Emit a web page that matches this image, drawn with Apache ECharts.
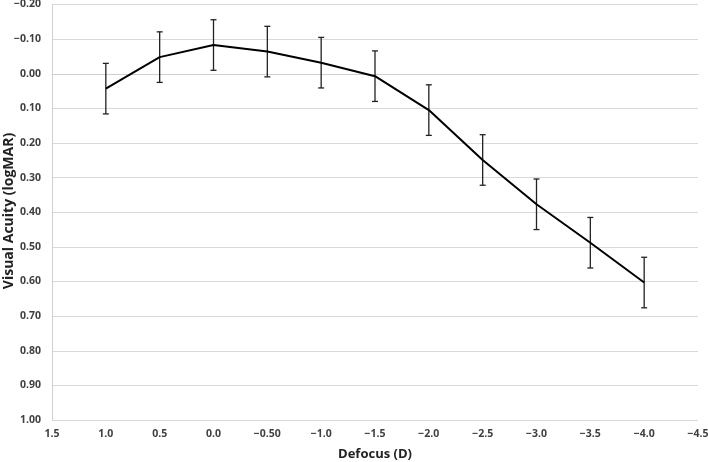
<!DOCTYPE html>
<html><head><meta charset="utf-8">
<script src="https://cdn.jsdelivr.net/npm/echarts@6/dist/echarts.min.js"></script>
<style>html,body{margin:0;padding:0;background:#fff}#c{width:708px;height:462px}</style>
</head><body><div id="c"></div>
<script>
const xTickLabels = ["1.5","1.0","0.5","0.0","\u22120.50","\u22121.0","\u22121.5","\u22122.0","\u22122.5","\u22123.0","\u22123.5","\u22124.0","\u22124.5"];
const defocus = ["1.0","0.5","0.0","\u22120.50","\u22121.0","\u22121.5","\u22122.0","\u22122.5","\u22123.0","\u22123.5","\u22124.0"];
const meanVA = [0.043, -0.048, -0.083, -0.064, -0.032, 0.007, 0.105, 0.249, 0.377, 0.488, 0.603];
const sdVA = [0.073, 0.073, 0.073, 0.073, 0.073, 0.073, 0.073, 0.073, 0.073, 0.073, 0.073];

const lineData = defocus.map((d, i) => [d, meanVA[i]]);
const errData = defocus.map((d, i) => [d, meanVA[i] - sdVA[i], meanVA[i] + sdVA[i]]);
const fontFam = '"Open Sans", "Liberation Sans", sans-serif';
const chart = echarts.init(document.getElementById('c'));
chart.setOption({
  animation: false,
  grid: {left: 52, right: 10, top: 4.5, bottom: 42, containLabel: false, outerBoundsMode: 'none'},
  graphic: [{
    type: 'text', rotation: Math.PI / 2,
    position: [9, 211],
    style: {text: 'Visual Acuity (logMAR)', font: 'bold 14px ' + fontFam, fill: '#222',
      textAlign: 'center', textVerticalAlign: 'middle'}
  }],
  xAxis: {
    type: 'category', data: xTickLabels, boundaryGap: false,
    name: 'Defocus (D)', nameLocation: 'middle', nameGap: 28,
    nameTextStyle: {fontFamily: fontFam, fontWeight: 'bold', fontSize: 13, color: '#222'},
    axisLine: {lineStyle: {color: '#d0d0d0', width: 1}},
    axisTick: {show: false},
    axisLabel: {fontFamily: fontFam, fontWeight: 'bold', fontSize: 10.5, color: '#404040', margin: 9, interval: 0},
    splitLine: {show: false}
  },
  yAxis: {
    type: 'value', inverse: true, min: -0.2, max: 1.0, interval: 0.1,
    axisLine: {show: true, lineStyle: {color: '#d0d0d0', width: 1}},
    axisTick: {show: false},
    axisLabel: {fontFamily: fontFam, fontWeight: 'bold', fontSize: 10.5, color: '#404040', margin: 11,
      formatter: v => { const s = Math.abs(v).toFixed(2); return (v < -1e-9 ? '\u2212' : '') + s; }},
    splitLine: {lineStyle: {color: '#d9d9d9', width: 1}}
  },
  series: [
    {
      type: 'custom', z: 3,
      data: errData,
      renderItem: function (params, api) {
        const x = api.value(0);
        const lo = api.coord([x, api.value(1)]);
        const hi = api.coord([x, api.value(2)]);
        const w = 3;
        const st = {stroke: '#222', lineWidth: 1.3};
        return {type: 'group', children: [
          {type: 'line', shape: {x1: lo[0], y1: lo[1], x2: hi[0], y2: hi[1]}, style: st},
          {type: 'line', shape: {x1: lo[0]-w, y1: lo[1], x2: lo[0]+w, y2: lo[1]}, style: st},
          {type: 'line', shape: {x1: hi[0]-w, y1: hi[1], x2: hi[0]+w, y2: hi[1]}, style: st}
        ]};
      }
    },
    {
      type: 'line', z: 4, data: lineData, symbol: 'none',
      lineStyle: {color: '#000', width: 2}
    }
  ]
});
</script></body></html>
